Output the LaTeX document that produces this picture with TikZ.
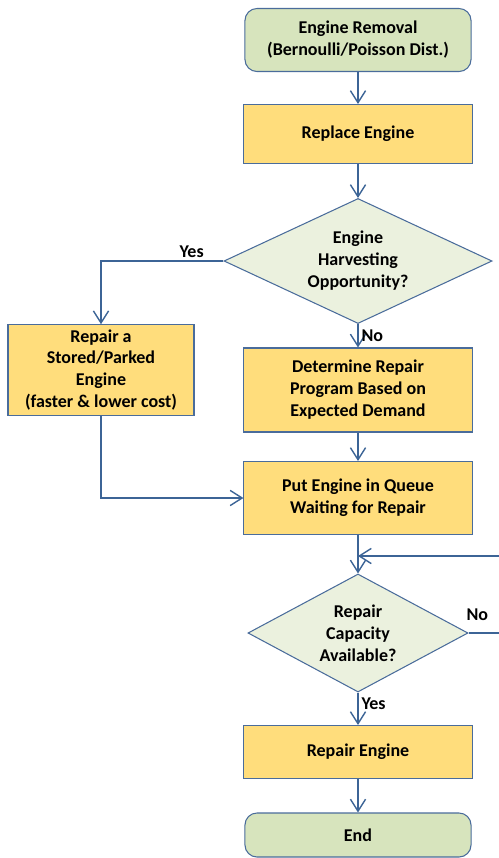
\documentclass[tikz,border=0pt]{standalone}
\usepackage{fontspec}
\setmainfont{Carlito}
\usetikzlibrary{shapes.geometric,arrows.meta}
\definecolor{termfill}{HTML}{D7E4BD}
\definecolor{stepfill}{HTML}{FFDD7C}
\definecolor{askfill}{HTML}{EBF1DE}
\definecolor{edgeblue}{HTML}{4A6C9B}
\definecolor{flowblue}{HTML}{3C6496}
\begin{document}
\begin{tikzpicture}[x=0.025cm, y=-0.025cm,
  every node/.style={font=\fontsize{12.8}{15.6}\selectfont\bfseries, align=center},
  termbox/.style={draw=edgeblue, line width=0.75pt, fill=termfill, rounded corners=0.3cm, minimum width=5.65cm},
  stepbox/.style={draw=edgeblue, line width=0.75pt, fill=stepfill, minimum width=5.7cm},
  askbox/.style={draw=edgeblue, line width=0.75pt, fill=askfill, diamond, inner sep=0pt},
  flow/.style={draw=flowblue, line width=1pt, -{Straight Barb[length=0.3cm, width=0.38cm]}},
  tag/.style={inner sep=2pt}]
  \useasboundingbox (0,0) rectangle (499,858);
  % main column
  \node[termbox, minimum height=1.575cm] (removal) at (358,40) {Engine Removal\\(Bernoulli/Poisson Dist.)};
  \node[stepbox, minimum height=1.475cm] (replace) at (358,134) {Replace Engine};
  \node[askbox, aspect=2.14, minimum width=6.7cm, minimum height=3.125cm] (harvest) at (358,261) {Engine\\Harvesting\\Opportunity?};
  \node[stepbox, minimum width=4.65cm, minimum height=2.15cm] (stored) at (101,370) {Repair a\\Stored/Parked\\Engine\\(faster \& lower cost)};
  \node[stepbox, minimum height=2.1cm] (program) at (358,390) {Determine Repair\\Program Based on\\Expected Demand};
  \node[stepbox, minimum height=1.825cm] (queue) at (358,498) {Put Engine in Queue\\Waiting for Repair};
  \node[askbox, aspect=1.86, minimum width=5.5cm, minimum height=2.95cm] (capacity) at (358,633) {Repair\\Capacity\\Available?};
  \node[stepbox, minimum height=1.325cm] (repair) at (358,752) {Repair Engine};
  \node[termbox, minimum height=1.1cm] (finish) at (358,835) {End};
  % loop back
  \coordinate (loopin) at (358,556);
  \coordinate (loopout) at (520,556);
  % connectors
  \draw[flow] (removal) -- (replace);
  \draw[flow] (replace) -- (harvest);
  \draw[flow] (harvest.west) -- node[tag, above, pos=0.26]{Yes} (stored.north |- harvest.west) -- (stored.north);
  \draw[flow] (harvest) -- node[tag, right, pos=0.5]{No} (program);
  \draw[flow] (program) -- (queue);
  \draw[flow] (stored.south) |- (queue.west);
  \draw[flow] (queue) -- (capacity);
  \draw[flow] (capacity.east) -- node[tag, above=6pt, pos=0.17]{No} (loopout |- capacity.east) -- (loopout) -- (loopin);
  \draw[flow] (capacity) -- node[tag, right, pos=0.35]{Yes} (repair);
  \draw[flow] (repair) -- (finish);
\end{tikzpicture}
\end{document}
